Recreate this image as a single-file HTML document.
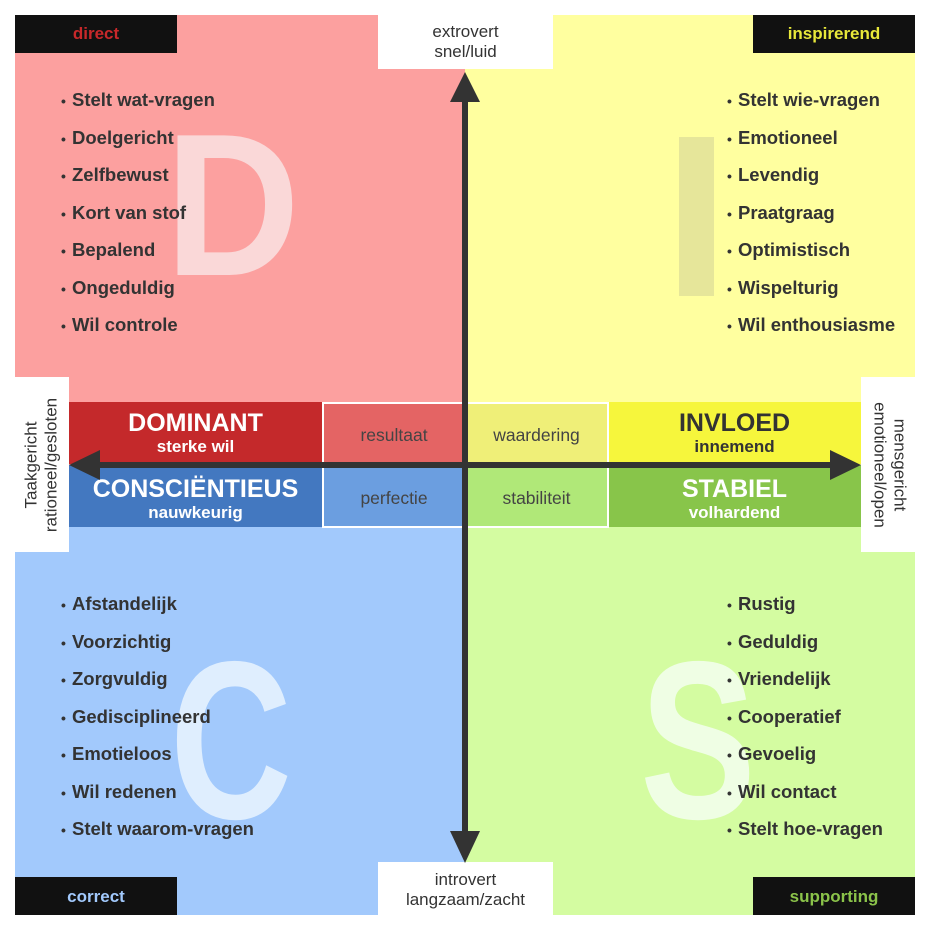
<!DOCTYPE html>
<html><head><meta charset="utf-8">
<style>
body{margin:0;width:930px;height:930px;background:#fff;position:relative;overflow:hidden;font-family:"Liberation Sans",sans-serif;}
.a{position:absolute;}
ul{position:absolute;margin:0;padding:0;list-style:none;font-weight:bold;font-size:18.5px;color:#333;}
ul li{height:37.5px;line-height:22px;}
ul li:before{content:"\2022";display:inline-block;width:11px;margin-left:-11px;font-size:14px;}
.lab{position:absolute;background:#111;font-weight:bold;font-size:17px;text-align:center;}
.wb{position:absolute;background:#fff;color:#333;font-size:17px;text-align:center;line-height:20px;}
.mid{position:absolute;font-size:17.5px;color:#444;text-align:center;box-sizing:border-box;border:2px solid #fff;}
.big{position:absolute;text-align:center;font-weight:bold;}
.big b{display:block;font-size:25px;line-height:28px;}
.big span{display:block;font-size:17px;line-height:20px;}
</style></head><body>
<div class="a" style="left:15px;top:15px;width:450px;height:450px;background:#fca09f"></div>
<div class="a" style="left:465px;top:15px;width:450px;height:450px;background:#ffff9f"></div>
<div class="a" style="left:15px;top:465px;width:450px;height:450px;background:#a2c9fc"></div>
<div class="a" style="left:465px;top:465px;width:450px;height:450px;background:#d4fca1"></div>

<svg class="a" style="left:0;top:0" width="930" height="930">
<text x="165" y="275" font-size="203" font-weight="bold" fill="#fad8d8" textLength="135" lengthAdjust="spacingAndGlyphs" font-family="Liberation Sans">D</text>
<rect x="679" y="137" width="35" height="159" fill="#e6e69a"/>
<text x="170" y="818" font-size="225" font-weight="bold" fill="#dfeefe" textLength="122" lengthAdjust="spacingAndGlyphs" font-family="Liberation Sans">C</text>
<text x="640" y="818" font-size="225" font-weight="bold" fill="#effee4" textLength="116" lengthAdjust="spacingAndGlyphs" font-family="Liberation Sans">S</text>
</svg>

<div class="lab" style="left:15px;top:15px;width:162px;height:38px;line-height:38px;color:#c8282a">direct</div>
<div class="lab" style="left:753px;top:15px;width:162px;height:38px;line-height:38px;color:#e8e83a">inspirerend</div>
<div class="lab" style="left:15px;top:877px;width:162px;height:38px;line-height:40px;color:#a2c9fc">correct</div>
<div class="lab" style="left:753px;top:877px;width:162px;height:38px;line-height:40px;color:#8bc34a">supporting</div>

<div class="wb" style="left:378px;top:15px;width:175px;height:54px;padding-top:7px;box-sizing:border-box">extrovert<br>snel/luid</div>
<div class="wb" style="left:378px;top:862px;width:175px;height:53px;padding-top:8px;box-sizing:border-box">introvert<br>langzaam/zacht</div>
<div class="wb" style="left:15px;top:377px;width:54px;height:175px"></div>
<div class="wb" style="left:861px;top:377px;width:54px;height:175px"></div>
<div class="a" style="left:42px;top:465px;width:175px;height:54px;margin-left:-87px;margin-top:-27px;transform:rotate(-90deg);text-align:center;font-size:17px;line-height:20px;color:#333;padding-top:6px;box-sizing:border-box">Taakgericht<br>rationeel/gesloten</div>
<div class="a" style="left:888px;top:465px;width:175px;height:54px;margin-left:-87px;margin-top:-27px;transform:rotate(90deg);text-align:center;font-size:17px;line-height:20px;color:#333;padding-top:6px;box-sizing:border-box">mensgericht<br>emotioneel/open</div>

<ul style="left:72px;top:89px">
<li>Stelt wat-vragen</li><li>Doelgericht</li><li>Zelfbewust</li><li>Kort van stof</li><li>Bepalend</li><li>Ongeduldig</li><li>Wil controle</li></ul>
<ul style="left:738px;top:89px">
<li>Stelt wie-vragen</li><li>Emotioneel</li><li>Levendig</li><li>Praatgraag</li><li>Optimistisch</li><li>Wispelturig</li><li>Wil enthousiasme</li></ul>
<ul style="left:72px;top:593px">
<li>Afstandelijk</li><li>Voorzichtig</li><li>Zorgvuldig</li><li>Gedisciplineerd</li><li>Emotieloos</li><li>Wil redenen</li><li>Stelt waarom-vragen</li></ul>
<ul style="left:738px;top:593px">
<li>Rustig</li><li>Geduldig</li><li>Vriendelijk</li><li>Cooperatief</li><li>Gevoelig</li><li>Wil contact</li><li>Stelt hoe-vragen</li></ul>

<div class="big" style="left:69px;top:402px;width:253px;height:62px;background:#c4292b;color:#fff;padding-top:7px;box-sizing:border-box"><b>DOMINANT</b><span>sterke wil</span></div>
<div class="big" style="left:69px;top:465px;width:253px;height:62px;background:#4378c0;color:#fff;padding-top:10px;box-sizing:border-box"><b>CONSCIËNTIEUS</b><span>nauwkeurig</span></div>
<div class="big" style="left:608px;top:402px;width:253px;height:62px;background:#f6f63c;color:#333;padding-top:7px;box-sizing:border-box"><b>INVLOED</b><span>innemend</span></div>
<div class="big" style="left:608px;top:465px;width:253px;height:62px;background:#88c54a;color:#fff;padding-top:10px;box-sizing:border-box"><b>STABIEL</b><span>volhardend</span></div>
<div class="mid" style="left:322px;top:402px;width:144px;height:64px;background:#e46464;line-height:62px">resultaat</div>
<div class="mid" style="left:322px;top:464px;width:144px;height:64px;background:#6b9ee0;line-height:64px">perfectie</div>
<div class="mid" style="left:464px;top:402px;width:145px;height:64px;background:#efef78;line-height:62px">waardering</div>
<div class="mid" style="left:464px;top:464px;width:145px;height:64px;background:#b0e878;line-height:64px">stabiliteit</div>

<svg class="a" style="left:0;top:0" width="930" height="930">
<rect x="462" y="100" width="6" height="733" fill="#333"/>
<polygon points="465,72 450,102 480,102" fill="#333"/>
<polygon points="465,863 450,831 480,831" fill="#333"/>
<rect x="98" y="462" width="734" height="6" fill="#333"/>
<polygon points="69,465 100,450 100,480" fill="#333"/>
<polygon points="861,465 830,450 830,480" fill="#333"/>
</svg>
</body></html>
